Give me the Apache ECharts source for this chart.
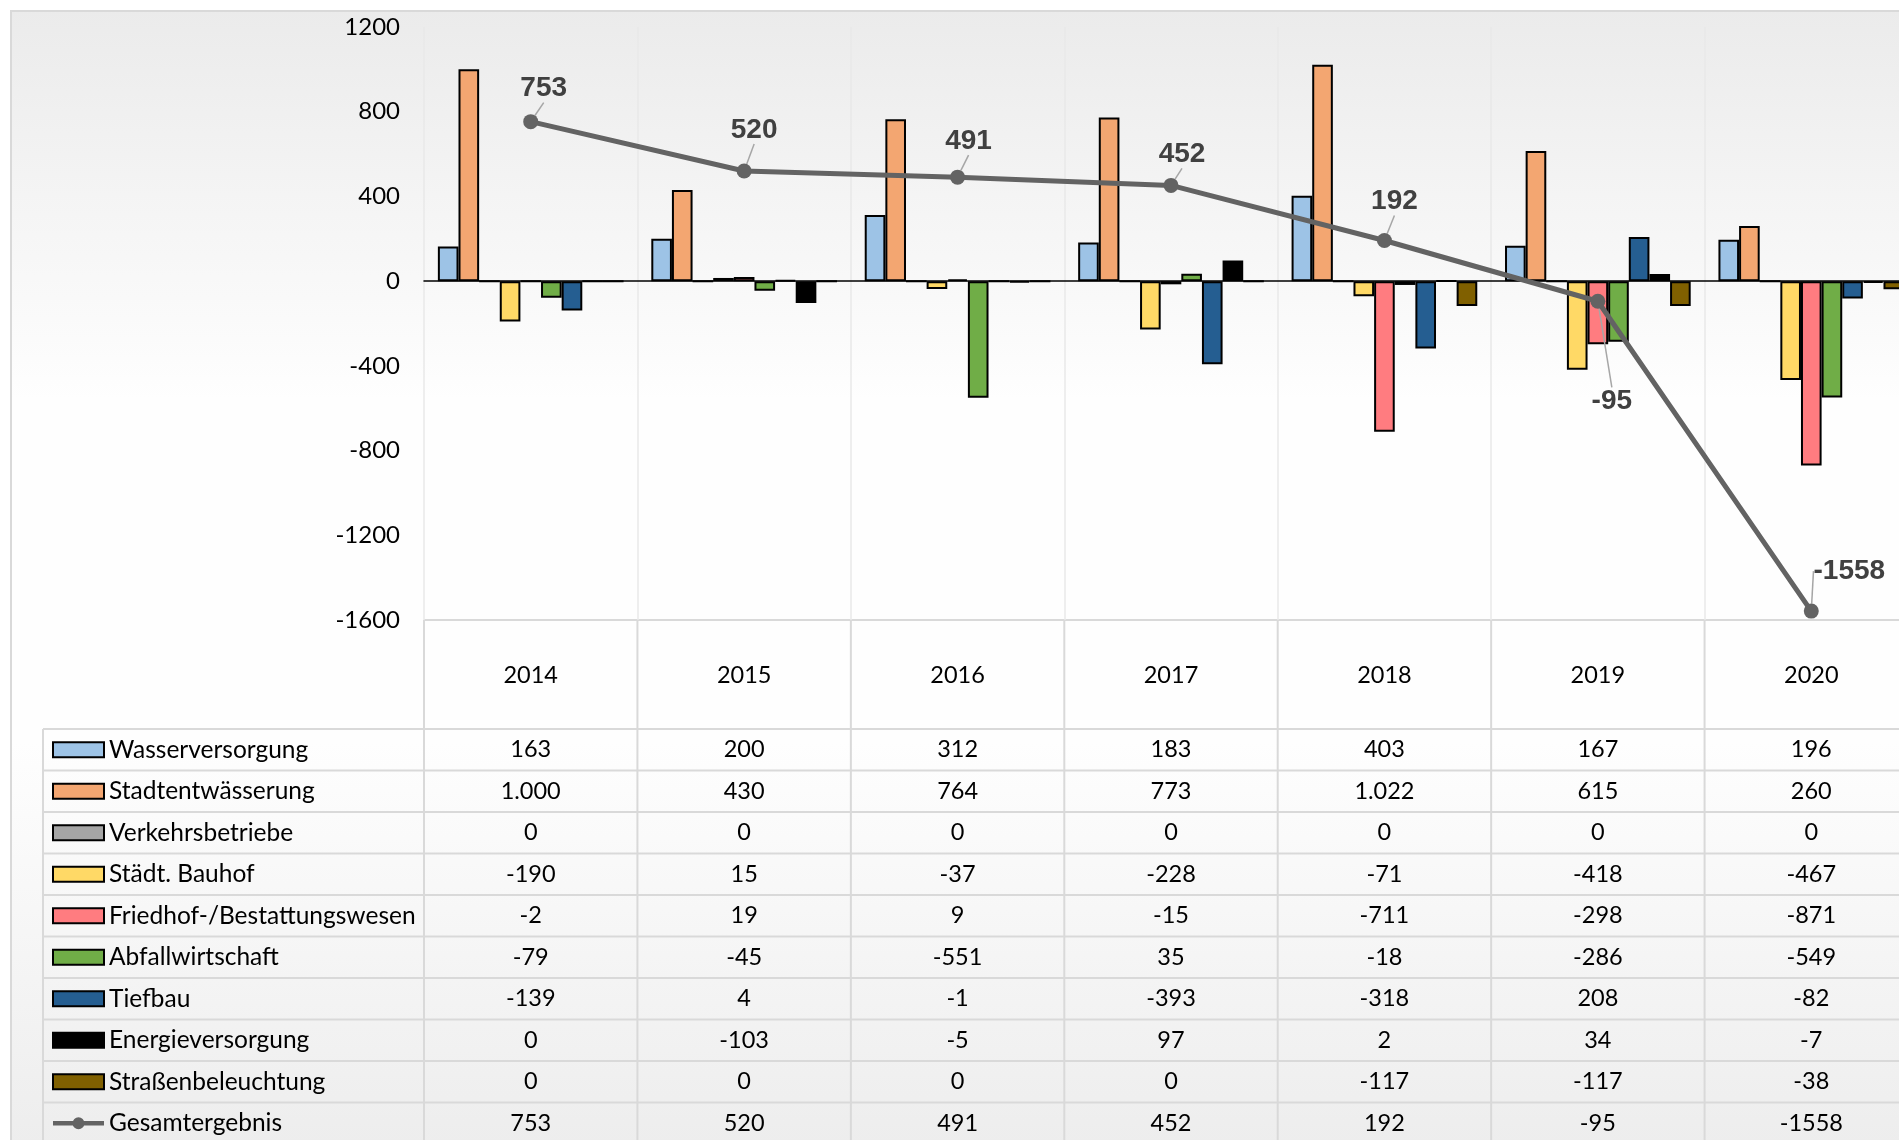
<!DOCTYPE html>
<html lang="de">
<head>
  <meta charset="UTF-8">
  <title>Ergebnisse</title>
  <style>
    html, body { margin: 0; padding: 0; background: #fff; overflow: hidden; }
    /* the chart is wider than the window, the 2020 column is cut off like in the original */
    #chart { width: 1940px; height: 1140px; }
  </style>
</head>
<body>
  <div id="chart"></div>
  <script src="https://cdn.jsdelivr.net/npm/echarts@6/dist/echarts.min.js"></script>
  <script>
    // Daten
    const years = ['2014', '2015', '2016', '2017', '2018', '2019', '2020'];
    const wasser = [163, 200, 312, 183, 403, 167, 196];
    const stadtent = [1000, 430, 764, 773, 1022, 615, 260];
    const verkehr = [0, 0, 0, 0, 0, 0, 0];
    const bauhof = [-190, 15, -37, -228, -71, -418, -467];
    const friedhof = [-2, 19, 9, -15, -711, -298, -871];
    const abfall = [-79, -45, -551, 35, -18, -286, -549];
    const tiefbau = [-139, 4, -1, -393, -318, 208, -82];
    const energie = [0, -103, -5, 97, 2, 34, -7];
    const strasse = [0, 0, 0, 0, -117, -117, -38];
    const gesamt = [753, 520, 491, 452, 192, -95, -1558];
    const yTicks = { min: -1600, max: 1200, interval: 400 };

    const barSeries = [
      { name: 'Wasserversorgung', data: wasser, color: '#9DC3E6' },
      { name: 'Stadtentwässerung', data: stadtent, color: '#F3A671' },
      { name: 'Verkehrsbetriebe', data: verkehr, color: '#A5A5A5' },
      { name: 'Städt. Bauhof', data: bauhof, color: '#FFD966' },
      { name: 'Friedhof-/Bestattungswesen', data: friedhof, color: '#FF7C80' },
      { name: 'Abfallwirtschaft', data: abfall, color: '#70AD47' },
      { name: 'Tiefbau', data: tiefbau, color: '#255E91' },
      { name: 'Energieversorgung', data: energie, color: '#000000' },
      { name: 'Straßenbeleuchtung', data: strasse, color: '#806000' }
    ];

    // Lage der Datenbeschriftungen der Linie (Versatz zum Punkt)
    const labelShift = [[13, -33], [10, -41], [11, -36], [11, -31], [10, -39], [14, 100], [38, -40]];

    // Layout
    const gridLeft = 424, gridTop = 27, gridH = 593, gridW = 1494;
    const gridBottom = gridTop + gridH;
    const tableTop = 729, rowH = 41.5, tableLeft = 43;
    const catW = gridW / years.length;
    const font = 'Lato';
    const legendLine = 26;

    function fmt(v, group) {
      const s = String(Math.abs(v));
      const body = group ? s.replace(/\B(?=(\d{3})+(?!\d))/g, '.') : s;
      return (v < 0 ? '-' : '') + body;
    }

    const tableRows = barSeries.map(s => s.data.map(v => fmt(v, true)));
    tableRows.push(gesamt.map(v => fmt(v, false)));

    function labelAxis(data, center) {
      return {
        type: 'category',
        gridIndex: 0,
        data: data,
        position: 'bottom',
        offset: center - gridBottom,
        axisLine: { show: false, onZero: false },
        axisTick: { show: false },
        splitLine: { show: false },
        axisLabel: {
          interval: 0, margin: 0, verticalAlign: 'middle',
          fontFamily: font, fontSize: 23.5, color: '#000'
        }
      };
    }

    const xAxes = [{
      type: 'category',
      data: years,
      axisLine: { onZero: true, lineStyle: { color: '#000', width: 1.5 } },
      axisTick: { show: false },
      axisLabel: { show: false },
      splitLine: { show: true, lineStyle: { color: '#e9e9e9', width: 1.5 } }
    }];
    xAxes.push(labelAxis(years, 675));
    tableRows.forEach((row, i) => xAxes.push(labelAxis(row, tableTop + rowH * i + rowH / 2)));

    // Tabellenlinien
    const lineStyle = { stroke: '#d9d9d9', lineWidth: 2 };
    const graphics = [{
      type: 'rect', z: -100, silent: true,
      shape: { x: 11, y: 11, width: 1960, height: 1180 },
      style: {
        stroke: '#d9d9d9', lineWidth: 2,
        fill: new echarts.graphic.LinearGradient(0, 0, 0, 1, [
          { offset: 0, color: '#ebebeb' },
          { offset: 0.33, color: '#fefefe' },
          { offset: 0.62, color: '#fefefe' },
          { offset: 1, color: '#ebebeb' }
        ])
      }
    }];
    graphics.push({ type: 'line', silent: true, shape: { x1: gridLeft, y1: gridBottom, x2: 1960, y2: gridBottom }, style: lineStyle });
    for (let k = 0; k <= 10; k++) {
      const y = tableTop + rowH * k;
      graphics.push({ type: 'line', silent: true, shape: { x1: tableLeft, y1: y, x2: 1960, y2: y }, style: lineStyle });
    }
    graphics.push({ type: 'line', silent: true, shape: { x1: tableLeft, y1: tableTop, x2: tableLeft, y2: 1140 }, style: lineStyle });
    for (let j = 0; j <= years.length; j++) {
      const x = gridLeft + catW * j;
      graphics.push({ type: 'line', silent: true, shape: { x1: x, y1: gridBottom, x2: x, y2: 1140 }, style: lineStyle });
    }

    const series = barSeries.map(s => ({
      name: s.name,
      type: 'bar',
      data: s.data,
      barGap: '0%',
      barCategoryGap: '13%',
      itemStyle: { color: s.color, borderColor: '#000', borderWidth: 2 },
      emphasis: { disabled: true }
    }));
    series.push({
      name: 'Gesamtergebnis',
      type: 'line',
      data: gesamt,
      symbol: 'circle',
      symbolSize: 15,
      lineStyle: { color: '#636363', width: 5 },
      itemStyle: { color: '#636363' },
      emphasis: { disabled: true },
      label: {
        show: true,
        position: 'inside',
        fontFamily: 'Liberation Sans',
        fontWeight: 'bold',
        fontSize: 28,
        color: '#404040'
      },
      labelLine: { show: true, lineStyle: { color: '#a6a6a6', width: 1.5 } },
      labelLayout: function (params) {
        const s = labelShift[params.dataIndex];
        return {
          x: params.rect.x + params.rect.width / 2 + s[0],
          y: params.rect.y + params.rect.height / 2 + s[1],
          align: 'center',
          verticalAlign: 'middle'
        };
      },
      z: 5
    });

    // line + dot key for the total row
    const lineKey = 'path://M0,5.5L56,5.5L56,10.5L0,10.5Z M21.5,8A6.5,6.5 0 1 1 34.5,8A6.5,6.5 0 1 1 21.5,8Z';
    const legendData = barSeries.map(s => ({ name: s.name, icon: 'rect' }));
    legendData.push({ name: 'Gesamtergebnis', icon: lineKey });

    const chart = echarts.init(document.getElementById('chart'));
    chart.setOption({
      animation: false,
      graphic: graphics,
      legend: {
        orient: 'vertical',
        left: 52,
        top: tableTop + rowH / 2 - legendLine / 2,
        height: 600,
        padding: 0,
        itemWidth: 51,
        itemHeight: 15,
        itemGap: rowH - legendLine,
        selectedMode: false,
        data: legendData,
        textStyle: { fontFamily: font, fontSize: 24.5, lineHeight: legendLine, color: '#000' }
      },
      grid: { left: gridLeft, top: gridTop, width: gridW, height: gridH, containLabel: false },
      xAxis: xAxes,
      yAxis: {
        type: 'value',
        min: yTicks.min,
        max: yTicks.max,
        interval: yTicks.interval,
        axisLine: { show: false },
        axisTick: { show: false },
        splitLine: { show: false },
        axisLabel: {
          margin: 24, fontFamily: font, fontSize: 24, color: '#000',
          formatter: v => String(v)
        }
      },
      series: series
    });
  </script>
</body>
</html>
